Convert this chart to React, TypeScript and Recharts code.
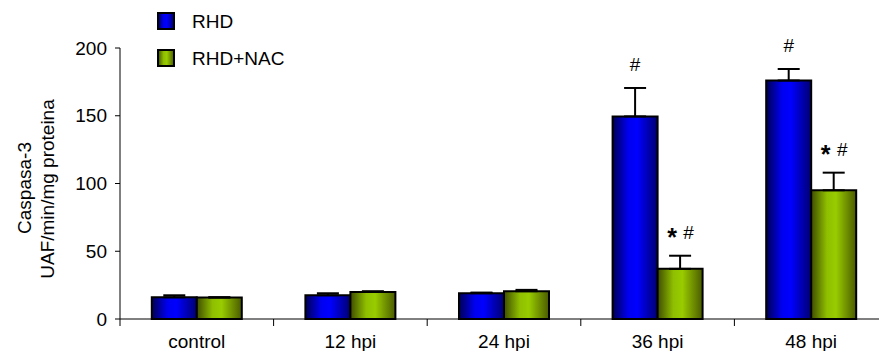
import { Bar, BarChart, ErrorBar, LabelList, XAxis, YAxis } from "recharts";

const groups = ["control", "12 hpi", "24 hpi", "36 hpi", "48 hpi"];
const rhd = [16, 17.5, 19, 149.5, 176];
const rhdErr = [1.5, 1.5, 0.5, 21, 8.5];
const nac = [15.8, 20, 20.5, 37, 95];
const nacErr = [0.3, 0.5, 1, 9.7, 13];
const rhdMarks = ["", "", "", "#", "#"];
const nacMarks = ["", "", "", "* #", "* #"];
const yTicks = [0, 50, 100, 150, 200];

const data = groups.map((g, i) => ({
  group: g,
  rhd: rhd[i],
  rhdErr: [0, rhdErr[i]],
  nac: nac[i],
  nacErr: [0, nacErr[i]],
}));

const font = "'Liberation Sans', Arial, sans-serif";
const fs = 19;

function GroupTick(props: any) {
  const { x, y, payload } = props;
  const half = payload?.offset ?? 76.8;
  return (
    <g>
      <line x1={x - half} y1={y - 8} x2={x - half} y2={y - 1} stroke="#000" strokeWidth={1} />
      <text x={x} y={y + 21} textAnchor="middle" fontSize={fs} fontFamily={font} fill="#000">
        {payload.value}
      </text>
    </g>
  );
}

function makeMark(marks: string[], errs: number[], values: number[]) {
  return (props: any) => {
    const { x, y, width, height, index } = props;
    const m = marks[index];
    if (!m) return null;
    const pxPer = height / values[index];
    const top = y - errs[index] * pxPer;
    const cx = x + width / 2;
    if (m === "#") {
      return (
        <text x={cx} y={top - 17} textAnchor="middle" fontSize={fs} fontFamily={font} fill="#000">
          #
        </text>
      );
    }
    return (
      <g>
        <text x={cx - 8} y={top - 17 + 7} textAnchor="middle" fontSize={25} fontWeight="bold" fontFamily={font} fill="#000">
          *
        </text>
        <text x={cx + 8.5} y={top - 17} textAnchor="middle" fontSize={fs} fontFamily={font} fill="#000">
          #
        </text>
      </g>
    );
  };
}

function LegendItem({ y, fill, label }: { y: number; fill: string; label: string }) {
  return (
    <g>
      <rect x={158} y={y} width={16} height={16} fill={fill} stroke="#000" strokeWidth={2} />
      <text x={192} y={y + 15} fontSize={fs} fontFamily={font} fill="#000">
        {label}
      </text>
    </g>
  );
}

export default function App() {
  return (
    <div style={{ position: "fixed", left: 0, top: 0, width: 879, height: 351, overflow: "hidden", background: "#fff" }}>
      <BarChart
        width={890}
        height={351}
        data={data}
        margin={{ top: 48, right: 2, bottom: 2, left: 0 }}
        barCategoryGap="20.7%"
        barGap={0}
      >
        <defs>
          <linearGradient id="blueGrad" x1="0" y1="0" x2="1" y2="0">
            <stop offset="0%" stopColor="#000055" />
            <stop offset="35%" stopColor="#0000f0" />
            <stop offset="55%" stopColor="#0000ff" />
            <stop offset="100%" stopColor="#000070" />
          </linearGradient>
          <linearGradient id="greenGrad" x1="0" y1="0" x2="1" y2="0">
            <stop offset="0%" stopColor="#3f4d00" />
            <stop offset="35%" stopColor="#8fbf00" />
            <stop offset="55%" stopColor="#99cc00" />
            <stop offset="100%" stopColor="#4a5a00" />
          </linearGradient>
        </defs>
        <XAxis
          dataKey="group"
          height={30}
          tick={<GroupTick />}
          tickLine={false}
          axisLine={{ stroke: "#000", strokeWidth: 1 }}
          interval={0}
        />
        <YAxis
          width={120}
          domain={[0, 200]}
          ticks={yTicks}
          tick={{ fill: "#000", fontSize: fs, fontFamily: font }}
          tickLine={{ stroke: "#000" }}
          tickSize={5}
          tickMargin={8}
          axisLine={{ stroke: "#000", strokeWidth: 1 }}
        />
        <Bar dataKey="rhd" fill="url(#blueGrad)" stroke="#000" strokeWidth={2} isAnimationActive={false}>
          <ErrorBar dataKey="rhdErr" width={11} stroke="#000" strokeWidth={2} />
          <LabelList content={makeMark(rhdMarks, rhdErr, rhd)} />
        </Bar>
        <Bar dataKey="nac" fill="url(#greenGrad)" stroke="#000" strokeWidth={2} isAnimationActive={false}>
          <ErrorBar dataKey="nacErr" width={11} stroke="#000" strokeWidth={2} />
          <LabelList content={makeMark(nacMarks, nacErr, nac)} />
        </Bar>
        <LegendItem y={13} fill="url(#blueGrad)" label="RHD" />
        <LegendItem y={50} fill="url(#greenGrad)" label="RHD+NAC" />
        <text transform="translate(24,188) rotate(-90)" textAnchor="middle" dominantBaseline="central" fontSize={fs} fontFamily={font} fill="#000">
          Caspasa-3
        </text>
        <text transform="translate(47,189) rotate(-90)" textAnchor="middle" dominantBaseline="central" fontSize={fs} fontFamily={font} fill="#000">
          UAF/min/mg proteina
        </text>
      </BarChart>
    </div>
  );
}
